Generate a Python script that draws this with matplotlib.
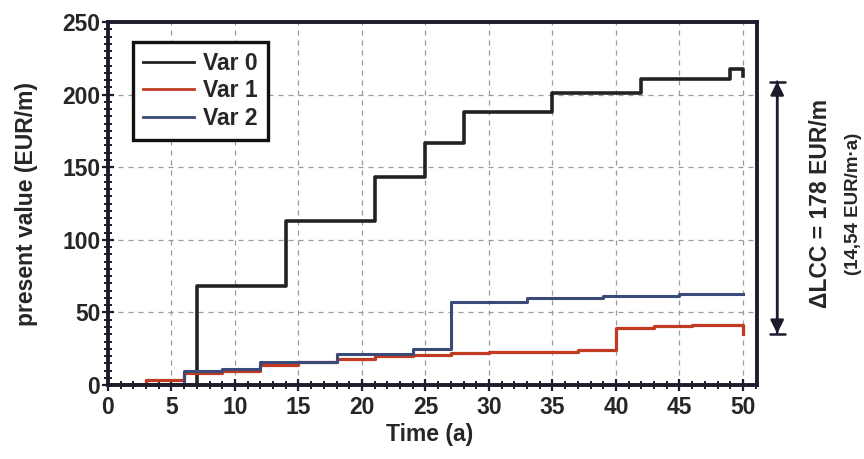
import matplotlib
matplotlib.use("Agg")
import matplotlib.pyplot as plt
from matplotlib.ticker import MultipleLocator

# ---- data ----
var0_t = [0, 7, 14, 21, 25, 28, 35, 42, 49, 50]
var0_v = [0, 68, 113, 143, 167, 188, 201, 211, 218, 213]

var1_t = [0, 3, 6, 9, 12, 15, 18, 21, 24, 27, 30, 33, 37, 40, 43, 46, 50]
var1_v = [0, 3.5, 8.5, 10, 14, 16, 18, 20, 21, 22, 22.5, 23, 24, 39.5, 40.5, 41.5, 35]

var2_t = [0, 6, 9, 12, 18, 24, 27, 33, 39, 45, 50]
var2_v = [0, 9.5, 11, 16, 21.5, 25, 57, 60, 61.5, 62.5, 62.5]

series_names = ["Var 0", "Var 1", "Var 2"]
x_ticks = [0, 5, 10, 15, 20, 25, 30, 35, 40, 45, 50]
y_ticks = [0, 50, 100, 150, 200, 250]
delta_top, delta_bottom = 209, 35.5
delta_label = "ΔLCC = 178 EUR/m"
delta_sub = "(14,54 EUR/m·a)"

plt.rcParams['font.family'] = ['Liberation Sans', 'DejaVu Sans']
plt.rcParams['font.weight'] = 'bold'
txt_col = '#262626'
spine_col = '#1c1c2c'
fs = 16.5

fig = plt.figure(figsize=(8.64, 4.59), dpi=100)
ax = fig.add_axes([0.125, 0.161, 0.751, 0.791])

ax.step(var0_t, var0_v, where='post', color='#222222', lw=2.6, label=series_names[0], zorder=2)
ax.step(var1_t, var1_v, where='post', color='#c23a22', lw=2.3, label=series_names[1], zorder=2)
ax.step(var2_t, var2_v, where='post', color='#3b4a78', lw=2.2, label=series_names[2], zorder=2)

ax.set_xlim(0, 51.1)
ax.set_ylim(0, 250)
ax.set_xticks(x_ticks)
ax.set_yticks(y_ticks)
ax.xaxis.set_minor_locator(MultipleLocator(1))
ax.yaxis.set_minor_locator(MultipleLocator(5))
ax.tick_params(axis='both', which='major', direction='inout', length=9, width=1.6,
               colors=spine_col, labelcolor=txt_col, labelsize=fs)
ax.tick_params(axis='both', which='minor', direction='inout', length=6, width=1.4, colors=spine_col)
ax.tick_params(axis='y', which='major', pad=1)
ax.tick_params(axis='x', which='major', pad=3)
for lab in ax.get_xticklabels() + ax.get_yticklabels():
    lab.set_fontweight('bold')

for s in ax.spines.values():
    s.set_linewidth(2.8)
    s.set_color(spine_col)
    s.set_zorder(2.5)

ax.grid(True, which='major', color='#9a9a9a', linestyle=(0, (4, 4)), linewidth=0.9)
ax.set_axisbelow(True)

ax.set_xlabel("Time (a)", fontsize=fs, fontweight='bold', color=txt_col)
ax.set_ylabel("present value (EUR/m)", fontsize=fs, fontweight='bold', color=txt_col)
ax.xaxis.set_label_coords(0.496, -0.105)
ax.yaxis.set_label_coords(-0.108, 0.5)

leg = ax.legend(loc='upper left', bbox_to_anchor=(0.0385, 0.945), borderaxespad=0,
                fancybox=False, framealpha=1, edgecolor='#111111',
                handlelength=2.2, handletextpad=0.4, labelspacing=0.18,
                borderpad=0.45, prop={'weight': 'bold', 'size': fs})
leg.get_frame().set_linewidth(2.4)
for t in leg.get_texts():
    t.set_color(txt_col)
for h in leg.get_lines():
    h.set_linewidth(2.0)

# Delta annotation on the right
xa = 52.7
ax.annotate('', xy=(xa, delta_top), xytext=(xa, delta_bottom), xycoords='data',
            arrowprops=dict(arrowstyle='<|-|>', color=spine_col, lw=1.8,
                            shrinkA=0, shrinkB=0, mutation_scale=20),
            annotation_clip=False)
ax.annotate('', xy=(xa, delta_top), xytext=(xa, delta_bottom), xycoords='data',
            arrowprops=dict(arrowstyle='|-|, widthA=0.55, widthB=0.55', color=spine_col, lw=1.8,
                            shrinkA=0, shrinkB=0),
            annotation_clip=False)
ax.text(56.1, 125, delta_label, rotation=90, ha='center', va='center', fontsize=16.5,
        fontweight='bold', color=txt_col, clip_on=False)
ax.text(58.7, 125, delta_sub, rotation=90, ha='center', va='center', fontsize=13.5,
        fontweight='bold', color=txt_col, clip_on=False)

fig.savefig("out.png", dpi=100)
